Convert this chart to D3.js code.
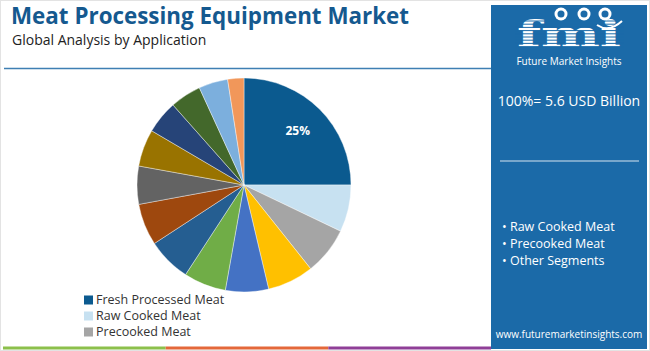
<!DOCTYPE html>
<html>
<head>
<meta charset="utf-8">
<script src="https://cdn.jsdelivr.net/npm/d3@7"></script>
<style>
  body { margin: 0; background: #fff; }
  svg { display: block; font-family: "Open Sans", "DejaVu Sans", sans-serif; }
</style>
</head>
<body>
<div id="wrapper"></div>
<script>
const segments = ["Fresh Processed Meat", "Raw Cooked Meat", "Precooked Meat", "Seg 4", "Seg 5", "Seg 6", "Seg 7",
  "Seg 8", "Seg 9", "Seg 10", "Seg 11", "Seg 12", "Seg 13", "Seg 14"]
const shares = [25, 7.1, 7.2, 7.0, 6.5, 6.4, 6.6, 6.3, 5.75, 5.6, 5.0, 4.7, 4.4, 2.45]
const sliceColors = ["#0b5a8f", "#c7e1f1", "#a5a5a5", "#ffc000", "#4472c4", "#70ad47", "#255e91",
  "#9e480e", "#636363", "#997300", "#264478", "#43682b", "#7cafdd", "#f1975a"]
const legendItems = ["Fresh Processed Meat", "Raw Cooked Meat", "Precooked Meat"]
const panelBullets = ["Raw Cooked Meat", "Precooked Meat", "Other Segments"]
const totalLabel = "100%= 5.6 USD Billion"

const width = 650, height = 351
const svg = d3.select("#wrapper").append("svg")
  .attr("width", width).attr("height", height)

// outer frame
svg.append("rect").attr("x", 0.5).attr("y", 0.5).attr("width", width - 1).attr("height", height - 1)
  .attr("fill", "#fff").attr("stroke", "#e3e3e3")

// titles
svg.append("text").attr("x", 11).attr("y", 24)
  .attr("font-size", 22.4).attr("font-weight", 700).attr("fill", "#15598f")
  .text("Meat Processing Equipment Market")
svg.append("text").attr("x", 12).attr("y", 45)
  .attr("font-size", 14).attr("fill", "#222")
  .text("Global Analysis by Application")
svg.append("line").attr("x1", 4).attr("x2", 491).attr("y1", 68.5).attr("y2", 68.5)
  .attr("stroke", "#3f7fb3").attr("stroke-width", 1.5)

// pie
const cx = 244, cy = 185, r = 107
const pie = d3.pie().sort(null).value(d => d)
const arc = d3.arc().innerRadius(0).outerRadius(r)
const pieG = svg.append("g").attr("transform", `translate(${cx},${cy})`)
const arcs = pie(shares)
pieG.selectAll("path").data(arcs).join("path")
  .attr("d", arc)
  .attr("fill", (d, i) => sliceColors[i])
  .attr("stroke", "#fff").attr("stroke-width", 0.4)
const labelArc = d3.arc().innerRadius(r * 0.71).outerRadius(r * 0.71)
pieG.append("text")
  .attr("transform", `translate(${labelArc.centroid(arcs[0])})`)
  .attr("text-anchor", "middle").attr("dy", "0.35em")
  .attr("font-size", 12).attr("font-weight", 700).attr("fill", "#fff")
  .text(shares[0] + "%")

// legend
const legendY = d3.scalePoint().domain(legendItems).range([300, 332])
const legend = svg.append("g")
legend.selectAll("rect").data(legendItems).join("rect")
  .attr("x", 84).attr("y", d => legendY(d) - 4.5).attr("width", 9).attr("height", 9)
  .attr("fill", (d, i) => sliceColors[i])
legend.selectAll("text").data(legendItems).join("text")
  .attr("x", 96).attr("y", d => legendY(d)).attr("dy", "0.35em")
  .attr("font-size", 12.5).attr("fill", "#333")
  .text(d => d)

// right panel
const panel = svg.append("g")
panel.append("rect").attr("x", 491).attr("y", 5).attr("width", 156).attr("height", 344)
  .attr("fill", "#1b6aa8")

// logo
const logo = panel.append("g")
logo.append("text").attr("x", 569).attr("y", 47).attr("text-anchor", "middle")
  .attr("font-family", "DejaVu Serif, serif").attr("font-size", 37).attr("font-weight", 700)
  .attr("textLength", 104).attr("lengthAdjust", "spacingAndGlyphs")
  .attr("fill", "#fff").text("fmi")
d3.range(21, 48, 3.2).forEach(y => {
  logo.append("line").attr("x1", 515).attr("x2", 624).attr("y1", y).attr("y2", y)
    .attr("stroke", "#1b6aa8").attr("stroke-width", 1)
})
;[[561, 14], [584, 14], [605, 14]].forEach(([x, y]) => {
  logo.append("circle").attr("cx", x).attr("cy", y).attr("r", 6.5).attr("fill", "#fff")
  logo.append("circle").attr("cx", x).attr("cy", y).attr("r", 3.5).attr("fill", "#1b6aa8")
})
logo.append("path").attr("d", "M597,25 Q609,33 622,21").attr("fill", "none")
  .attr("stroke", "#fff").attr("stroke-width", 2)
logo.append("text").attr("x", 569).attr("y", 65).attr("text-anchor", "middle")
  .attr("font-size", 10).attr("fill", "#fff").text("Future Market Insights")

panel.append("text").attr("x", 569).attr("y", 106).attr("text-anchor", "middle")
  .attr("font-size", 14).attr("fill", "#fff").text(totalLabel)
panel.append("line").attr("x1", 500).attr("x2", 639).attr("y1", 161).attr("y2", 161)
  .attr("stroke", "#d6e4f0").attr("stroke-width", 1)

const bulletY = d3.scalePoint().domain(panelBullets).range([227, 261])
panel.selectAll(".bullet").data(panelBullets).join("text")
  .attr("class", "bullet")
  .attr("x", 502).attr("y", d => bulletY(d)).attr("dy", "0.35em")
  .attr("font-size", 12.5).attr("fill", "#fff")
  .text(d => "\u2022 " + d)

panel.append("text").attr("x", 569).attr("y", 338).attr("text-anchor", "middle")
  .attr("font-size", 10).attr("fill", "#fff").text("www.futuremarketinsights.com")

// bottom colour bar
const barColors = ["#8cc04b", "#e4683a", "#8f3f97"]
const barX = d3.scaleLinear().domain([0, 3]).range([3, 491])
svg.selectAll(".bar").data(barColors).join("rect")
  .attr("class", "bar")
  .attr("x", (d, i) => barX(i)).attr("width", (d, i) => barX(i + 1) - barX(i))
  .attr("y", 346.5).attr("height", 3)
  .attr("fill", d => d)
</script>
</body>
</html>
